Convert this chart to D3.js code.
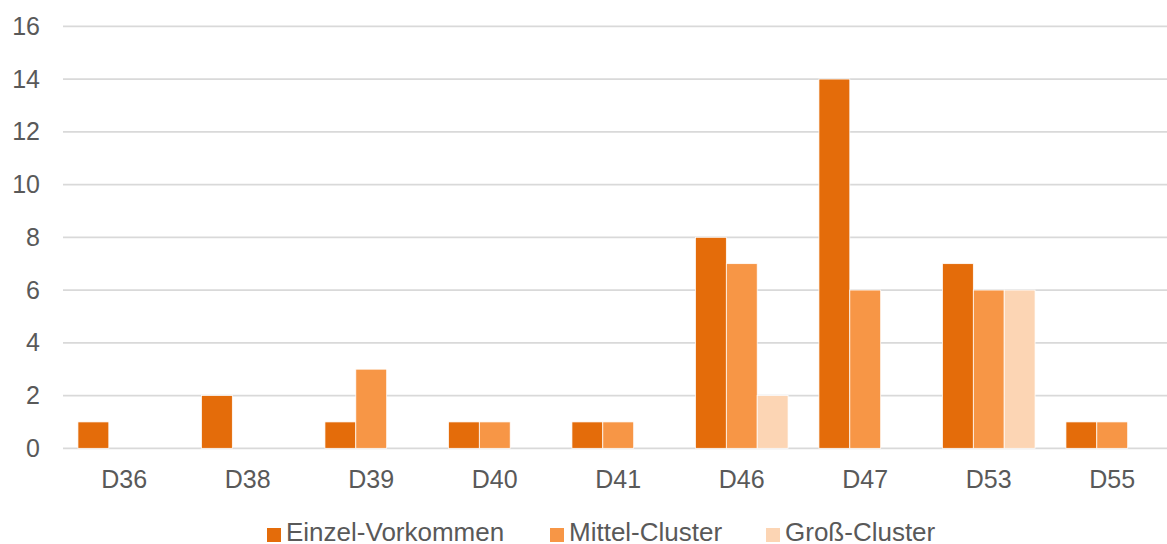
<!DOCTYPE html>
<html>
<head>
<meta charset="utf-8">
<script src="https://cdn.jsdelivr.net/npm/d3@7"></script>
<style>
  body { margin: 0; background: #fff; }
  svg { display: block; font-family: "Liberation Sans", Arial, sans-serif; }
</style>
</head>
<body>
<svg id="chart" width="1167" height="544"></svg>
<script>
const categories = ['D36', 'D38', 'D39', 'D40', 'D41', 'D46', 'D47', 'D53', 'D55'];
const seriesNames = ['Einzel-Vorkommen', 'Mittel-Cluster', 'Groß-Cluster'];
const einzel = [1, 2, 1, 1, 1, 8, 14, 7, 1];
const mittel = [0, 0, 3, 1, 1, 7, 6, 6, 1];
const gross = [0, 0, 0, 0, 0, 2, 0, 6, 0];
const yTicks = [0, 2, 4, 6, 8, 10, 12, 14, 16];
const colors = ['#E46C0A', '#F79646', '#FCD5B4'];

const seriesValues = [einzel, mittel, gross];
const width = 1167;
const plot = { left: 63, right: 1167, top: 26.3, bottom: 448.3 };
const font = '"Liberation Sans", Arial, sans-serif';

const svg = d3.select('#chart');

// Excel-like gap: half a gap outside the first and last group
const x = d3.scaleBand()
  .domain(categories)
  .range([62.5, 1174])
  .paddingInner(0.25)
  .paddingOuter(0.125);

const xSub = d3.scaleBand()
  .domain(seriesNames)
  .range([0, x.bandwidth()]);

const y = d3.scaleLinear()
  .domain([0, 16])
  .range([plot.bottom, plot.top]);

// gridlines
svg.append('g')
  .attr('class', 'gridlines')
  .selectAll('line')
  .data(yTicks)
  .join('line')
  .attr('x1', plot.left)
  .attr('x2', plot.right)
  .attr('y1', (d) => y(d))
  .attr('y2', (d) => y(d))
  .attr('stroke', '#D9D9D9')
  .attr('stroke-width', 1.75);

// y labels
const yAxis = svg.append('g')
  .attr('class', 'y-axis')
  .attr('transform', 'translate(40,0)')
  .call(d3.axisLeft(y).tickValues(yTicks).tickSize(0).tickPadding(0));
yAxis.select('.domain').remove();
yAxis.selectAll('.tick text')
  .attr('fill', '#595959')
  .attr('font-size', 25)
  .attr('font-family', font);

// bars
const rows = categories.map((c, i) => ({
  category: c,
  values: seriesNames.map((s, j) => ({ series: s, idx: j, value: seriesValues[j][i] })),
}));

svg.append('g')
  .selectAll('g')
  .data(rows)
  .join('g')
  .attr('transform', (d) => `translate(${x(d.category)},0)`)
  .selectAll('rect')
  .data((d) => d.values.filter((v) => v.value > 0))
  .join('rect')
  .attr('x', (d) => xSub(d.series))
  .attr('width', xSub.bandwidth())
  .attr('y', (d) => y(d.value))
  .attr('height', (d) => y(0) - y(d.value))
  .attr('fill', (d) => colors[d.idx])
  .attr('stroke', '#fff')
  .attr('stroke-width', 0.75);

// x labels
const xAxis = svg.append('g')
  .attr('class', 'x-axis')
  .attr('transform', `translate(0,${plot.bottom})`)
  .call(d3.axisBottom(x).tickSize(0).tickPadding(22));
xAxis.select('.domain').remove();
xAxis.selectAll('.tick text')
  .attr('fill', '#595959')
  .attr('font-size', 25)
  .attr('font-family', font);

// legend
const legendX = [267, 550, 766];
const legend = svg.append('g')
  .selectAll('g')
  .data(seriesNames)
  .join('g')
  .attr('transform', (d, i) => `translate(${legendX[i]},0)`);
legend.append('rect')
  .attr('y', 528)
  .attr('width', 14)
  .attr('height', 14)
  .attr('fill', (d, i) => colors[i]);
legend.append('text')
  .attr('x', 19)
  .attr('y', 541)
  .attr('font-size', 26)
  .attr('font-family', font)
  .attr('fill', '#595959')
  .text((d) => d);
</script>
</body>
</html>
